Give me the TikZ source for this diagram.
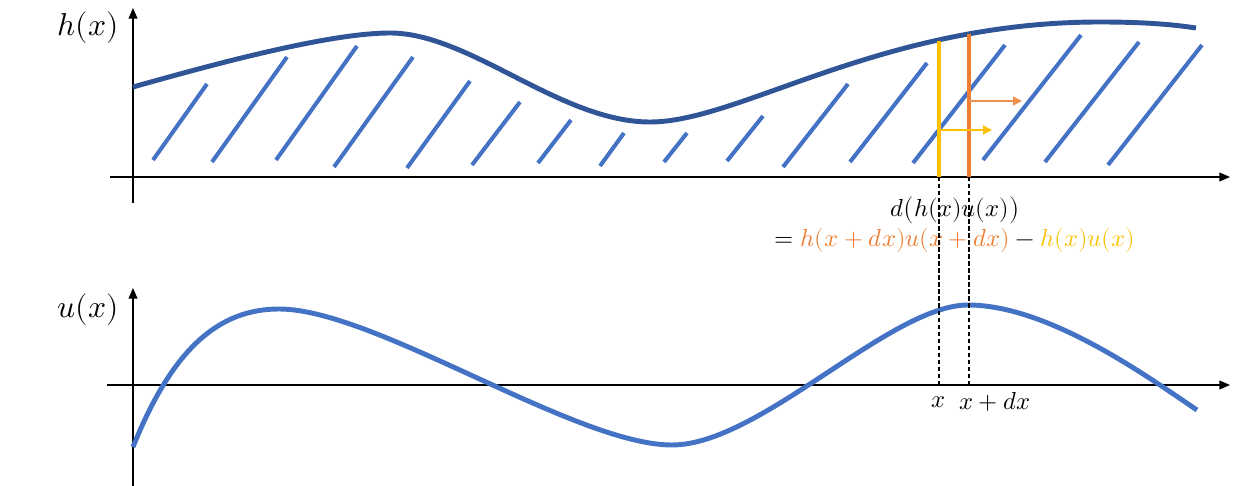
\documentclass[tikz,border=0pt]{standalone}
\usepackage{amsmath}
\usepackage{unicode-math}
\usepackage{xcolor}
\usepackage{tikz}
\usetikzlibrary{arrows.meta, positioning}

\definecolor{hblue}{HTML}{2F5597}
\definecolor{ublue}{HTML}{4472C4}
\definecolor{dorange}{HTML}{ED7D31}
\definecolor{aorange}{HTML}{F0904F}
\definecolor{dyellow}{HTML}{FFC000}

\begin{document}
\begin{tikzpicture}[x=0.02cm, y=-0.02cm,
    axis/.style={line width=0.75pt, -{Triangle[length=6pt, width=5pt]}},
    hcurve/.style={line width=2.8pt, hblue},
    ucurve/.style={line width=2.8pt, ublue},
    hatch/.style={line width=2.3pt, ublue},
    slice/.style={line width=2.6pt},
    flux/.style={line width=0.9pt, -{Triangle[length=5pt, width=5pt]}},
    guide/.style={line width=0.6pt, dash pattern=on 2.5pt off 1.5pt},
    lbl/.style={font=\fontsize{14}{16}\selectfont, inner sep=1pt},
    big/.style={font=\fontsize{18}{20}\selectfont, inner sep=1pt}]

    \useasboundingbox (0,0) rectangle (1242,486);

    % axes of h
    \coordinate (hx0) at (110,177); \coordinate (hx1) at (1230,177);
    \coordinate (hy0) at (133,203); \coordinate (hy1) at (133,8);
    \draw[axis] (hx0)--(hx1); \draw[axis] (hy0)--(hy1);
    \node[big] (hlab) at (88,28) {$h(x)$};

    % hatching under h
    \draw[hatch] (153,160)--(207,84);  \draw[hatch] (212,162)--(287,57);
    \draw[hatch] (276,160)--(357,46);  \draw[hatch] (334,167)--(413,57);
    \draw[hatch] (407,168)--(470,81);  \draw[hatch] (472,165)--(520,102);
    \draw[hatch] (538,163)--(571,120); \draw[hatch] (600,166)--(624,133);
    \draw[hatch] (664,162)--(687,133); \draw[hatch] (727,161)--(763,116);
    \draw[hatch] (783,167)--(848,84);  \draw[hatch] (850,162)--(927,63);
    \draw[hatch] (913,163)--(1005,45); \draw[hatch] (983,160)--(1081,35);
    \draw[hatch] (1045,162)--(1139,42); \draw[hatch] (1108,165)--(1202,45);

    % h(x)
    \draw[hcurve] (133,87) .. controls (218,63) and (330,33) .. (390,33)
        .. controls (470,33) and (560,122) .. (650,122)
        .. controls (740,122) and (880,22) .. (1100,22)
        .. controls (1140,22) and (1170,24) .. (1196,28);

    % slices at x and x+dx
    \coordinate (ya) at (939,177); \coordinate (yb) at (939,41);
    \coordinate (oa) at (969,177); \coordinate (ob) at (969,34);
    \draw[slice, dyellow] (ya)--(yb);
    \draw[slice, dorange] (oa)--(ob);
    \coordinate (yf0) at (939,130); \coordinate (yf1) at (992,130);
    \coordinate (of0) at (969,101); \coordinate (of1) at (1022,101);
    \draw[flux, dyellow] (yf0)--(yf1);
    \draw[flux, aorange] (of0)--(of1);

    % formula
    \node[lbl] (dhu) at (955,210) {$d\bigl(h(x)u(x)\bigr)$};
    \node[lbl] (dhu2) at (955,240) {$= \textcolor{dorange}{h(x+dx)u(x+dx)} - \textcolor{dyellow}{h(x)u(x)}$};

    % axes of u
    \coordinate (ux0) at (107,385); \coordinate (ux1) at (1230,385);
    \coordinate (uy0) at (133,486); \coordinate (uy1) at (133,288);
    \draw[axis] (ux0)--(ux1); \draw[axis] (uy0)--(uy1);
    \node[big] (ulab) at (88,310) {$u(x)$};

    % u(x)
    \draw[ucurve] (133,447) .. controls (173,347) and (220,309) .. (279,309)
        .. controls (375,309) and (575,445) .. (672,445)
        .. controls (760,445) and (890,305) .. (968,305)
        .. controls (1050,305) and (1152,380) .. (1197,410);

    % guides down to the x axis
    \coordinate (ga) at (939,385); \coordinate (gb) at (969,385);
    \draw[guide] (ya)--(ga); \draw[guide] (oa)--(gb);
    \node[lbl] (xa) at (939,402) {$x$};
    \node[lbl] (xb) at (995,402) {$x+dx$};
\end{tikzpicture}
\end{document}
